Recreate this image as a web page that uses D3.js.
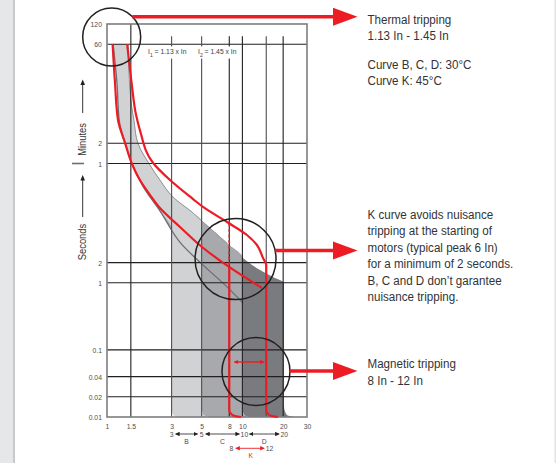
<!DOCTYPE html>
<html>
<head>
<meta charset="utf-8">
<script src="https://cdnjs.cloudflare.com/ajax/libs/d3/7.8.5/d3.min.js"></script>
<style>
  html, body { margin: 0; padding: 0; background: #fff; }
  svg { display: block; }
  text { font-family: "Liberation Sans", Arial, sans-serif; white-space: pre; }
</style>
</head>
<body>
<div id="chart"></div>
<script>
(function () {
  'use strict';

  // x: multiples of In, y: tripping time in seconds
  var xTicks = [1, 1.5, 3, 5, 8, 10, 20, 30];
  var xTickLabels = ['1', '1.5', '3', '5', '8', '10', '20', '30'];
  var xGrid = [1.5, 3, 5, 8, 10, 15, 20];
  var yTicks = [7200, 3600, 120, 60, 2, 1, 0.1, 0.04, 0.02, 0.01];
  var yTickLabels = ['120', '60', '2', '1', '2', '1', '0.1', '0.04', '0.02', '0.01'];
  var yGrid = [3600, 120, 60, 2, 1, 0.1, 0.04, 0.02];

  // thermal band B/C/D (1.13 In no-trip / 1.45 In trip)
  var thermalLow = [[1.11, 3600], [1.185, 950], [1.23, 267], [1.36, 121], [1.53, 59], [1.85, 27],
    [2.46, 11.8], [3.58, 3.7], [5.1, 1.85], [7.7, 0.87], [10.1, 0.5]];
  var thermalHigh = [[1.43, 3600], [1.5, 530], [1.58, 267], [1.69, 121], [2.05, 59], [2.46, 34],
    [3.07, 19], [4.32, 11], [5.12, 8.05], [7.7, 3.9], [10.1, 2.35], [13.5, 1.55], [16.8, 1.22]];

  // K curve (red)
  var kLow = [[1.1, 3600], [1.146, 950], [1.206, 267], [1.36, 121], [1.53, 59], [1.75, 34],
    [2.08, 20.3], [2.46, 13], [3.46, 6.8], [5.03, 3.42], [8.38, 1.61], [13.96, 0.84]];
  var kHigh = [[1.41, 3600], [1.52, 950], [1.64, 317], [1.75, 189], [2.19, 61], [2.92, 34],
    [4.32, 17.7], [5.12, 13.5], [7.7, 8.05], [10.8, 5.16], [12.8, 3.66], [14.2, 2.34]];

  var curveNames = ['B', 'C', 'D'];
  var magneticMin = [3, 5, 10];
  var magneticMax = [5, 10, 20.3];
  var bandColors = ['#d1d2d4', '#a7a9ac', '#7a7b7e'];
  var kMagnetic = [8, 15];

  var width = 556;
  var height = 463;

  var x = d3.scaleLog().domain([1, 30]).range([107, 307]);
  var y = d3.scaleLog().domain([0.01, 7200]).range([417, 24]);

  var red = '#ed1c24';
  var ink = '#231f20';
  var textInk = '#333335';

  var svg = d3.select('#chart')
      .append('svg')
      .attr('width', width)
      .attr('height', height);

  // page edges
  svg.append('rect').attr('x', 0).attr('y', 0).attr('width', 13).attr('height', height).attr('fill', '#e6e7e8');
  svg.append('rect').attr('x', 13).attr('y', 0).attr('width', 2).attr('height', height).attr('fill', '#c8c9cb');
  svg.append('rect').attr('x', 554.5).attr('y', 0).attr('width', 1.5).attr('height', height).attr('fill', '#e2e3e4');

  function timeAt(curve, v) {
    var i = 0;
    while (i < curve.length - 2 && curve[i + 1][0] < v) i++;
    var a = curve[i], b = curve[i + 1];
    var f = (Math.log(v) - Math.log(a[0])) / (Math.log(b[0]) - Math.log(a[0]));
    return Math.exp(Math.log(a[1]) + f * (Math.log(b[1]) - Math.log(a[1])));
  }

  // vertical magnetic drop with the little foot at the bottom
  function drop(v, w, h) {
    return [[v, h], [v * (1 + w * 0.25), 0.0107], [v * (1 + w), 0.01]];
  }

  function edge(curve, v, w, h) {
    return curve.filter(function (d) { return d[0] < v; })
      .concat([[v, timeAt(curve, v)]], drop(v, w, h));
  }

  var line = d3.line()
      .x(function (d) { return x(d[0]); })
      .y(function (d) { return y(d[1]); })
      .curve(d3.curveMonotoneY);

  function band(vMin, vMax, wide) {
    var top = edge(thermalHigh, vMax, wide ? 0.2 : 0.12, wide ? 0.0145 : 0.0135);
    var bottom = edge(thermalLow, vMin, 0.12, 0.0135).reverse();
    return line(top) + 'L' + line(bottom).slice(1) + 'Z';
  }

  // bands, D first so B ends on top
  var bands = svg.append('g');
  for (var i = curveNames.length - 1; i >= 0; i--) {
    bands.append('path')
      .attr('class', 'band band-' + curveNames[i])
      .attr('d', band(magneticMin[i], magneticMax[i], i === curveNames.length - 1))
      .attr('fill', bandColors[i]);
  }

  svg.append('path')
    .attr('d', line(thermalLow))
    .attr('fill', 'none')
    .attr('stroke', '#6d6e71')
    .attr('stroke-width', 1.3);

  svg.append('path')
    .attr('d', line(thermalHigh.filter(function (d) { return d[0] < 10; })))
    .attr('fill', 'none')
    .attr('stroke', '#939598')
    .attr('stroke-width', 1);

  // grid
  var grid = svg.append('g');
  grid.selectAll('.hline')
    .data(yGrid)
    .enter()
    .append('line')
    .attr('x1', x(1))
    .attr('x2', x(30))
    .attr('y1', function (d) { return y(d); })
    .attr('y2', function (d) { return y(d); })
    .attr('stroke', ink)
    .attr('stroke-width', 1.1);

  grid.selectAll('.vline')
    .data(xGrid)
    .enter()
    .append('line')
    .attr('x1', function (d) { return x(d); })
    .attr('x2', function (d) { return x(d); })
    .attr('y1', function (d) { return d === 1.5 ? y(7200) : y(3600) - 8; })
    .attr('y2', y(0.01))
    .attr('stroke', function (d) { return (d === 3 || d === 5 || d === 15) ? '#4d4d4f' : ink; })
    .attr('stroke-width', 1.1);

  svg.append('rect')
    .attr('x', x(1))
    .attr('y', y(7200))
    .attr('width', x(30) - x(1))
    .attr('height', y(0.01) - y(7200))
    .attr('fill', 'none')
    .attr('stroke', '#7d7d7f')
    .attr('stroke-width', 1.6);

  // I1 / I2 labels
  var topLabels = [{ at: 148, sub: '1', rest: ' = 1.13 x In' }, { at: 198, sub: '2', rest: ' = 1.45 x In' }];
  topLabels.forEach(function (d) {
    var g = svg.append('g').attr('transform', 'translate(' + d.at + ',54) scale(0.85,1)');
    var t = g.append('text').attr('font-size', 8).attr('fill', '#414042');
    t.append('tspan').text('I');
    t.append('tspan').attr('font-size', 6).attr('dy', 2.5).text(d.sub);
    t.append('tspan').attr('dy', -2.5).text(d.rest);
    var bb = t.node().getBBox();
    g.insert('rect', 'text')
      .attr('x', bb.x - 1).attr('y', bb.y)
      .attr('width', bb.width + 2).attr('height', bb.height + 1)
      .attr('fill', '#fff');
  });

  // axes
  var yAxis = svg.append('g')
      .attr('transform', 'translate(' + x(1) + ',0)')
      .call(d3.axisLeft(y)
        .tickValues(yTicks)
        .tickFormat(function (d, i) { return yTickLabels[i]; })
        .tickSize(0)
        .tickPadding(6));

  var xAxis = svg.append('g')
      .attr('transform', 'translate(0,' + y(0.01) + ')')
      .call(d3.axisBottom(x)
        .tickValues(xTicks)
        .tickFormat(function (d, i) { return xTickLabels[i]; })
        .tickSize(0)
        .tickPadding(6));

  [yAxis, xAxis].forEach(function (g) {
    g.select('.domain').remove();
    g.attr('font-family', '"Liberation Sans", Arial, sans-serif').attr('font-size', 8);
    g.selectAll('text').attr('fill', '#4d4d4f').attr('transform', 'scale(0.85,1)');
  });

  // K curve
  var kGroup = svg.append('g')
      .attr('fill', 'none')
      .attr('stroke', red)
      .attr('stroke-width', 2.2);

  kGroup.append('path').attr('d', line(kLow));
  kGroup.append('path').attr('d', line(kHigh.filter(function (d) { return d[0] < kMagnetic[1]; })
    .concat([[kMagnetic[1], timeAt(kHigh, kMagnetic[1])]], drop(kMagnetic[1], 0.22, 0.0125))));
  kGroup.append('path').attr('d', line([[kMagnetic[0], timeAt(kLow, kMagnetic[0])]]
    .concat(drop(kMagnetic[0], 0.22, 0.0125))));
  kGroup.append('path')
    .attr('d', line([[kMagnetic[0], timeAt(kHigh, kMagnetic[0])], [kMagnetic[0], timeAt(kLow, kMagnetic[0])]]))
    .attr('stroke-width', 1.6)
    .attr('stroke-dasharray', '3,2.5');

  // arrow heads
  var defs = svg.append('defs');
  [['head-ink', ink], ['head-red', red]].forEach(function (m) {
    defs.append('marker')
      .attr('id', m[0])
      .attr('viewBox', '0 0 10 10')
      .attr('refX', 9)
      .attr('refY', 5)
      .attr('markerUnits', 'userSpaceOnUse')
      .attr('markerWidth', 4.5)
      .attr('markerHeight', 4.5)
      .attr('orient', 'auto-start-reverse')
      .append('path')
      .attr('d', 'M0,0L10,5L0,10z')
      .attr('fill', m[1]);
  });

  // magnetic range arrow in the lower circle
  svg.append('line')
    .attr('x1', x(kMagnetic[0]) + 5).attr('x2', x(kMagnetic[1]) - 2)
    .attr('y1', y(0.066)).attr('y2', y(0.066))
    .attr('stroke', red).attr('stroke-width', 1.4)
    .attr('marker-start', 'url(#head-red)')
    .attr('marker-end', 'url(#head-red)');

  // circles and callout arrows
  var circles = [
    { v: 1.083, t: 4600, r: 29, ay: 16.7 },
    { v: 8.9, t: 2.26, r: 40.5, ay: 250.5 },
    { v: 12.6, t: 0.0477, r: 34, ay: 371 }
  ];
  circles.forEach(function (c) {
    var cx = x(c.v), cy = y(c.t);
    svg.append('circle')
      .attr('cx', cx).attr('cy', cy).attr('r', c.r)
      .attr('fill', 'none')
      .attr('stroke', ink)
      .attr('stroke-width', 1.5);
    var start = cx + Math.sqrt(c.r * c.r - (c.ay - cy) * (c.ay - cy));
    svg.append('line')
      .attr('x1', start).attr('x2', 335)
      .attr('y1', c.ay).attr('y2', c.ay)
      .attr('stroke', red).attr('stroke-width', 3.6);
    svg.append('path')
      .attr('d', 'M333,' + (c.ay - 9) + 'L357.5,' + c.ay + 'L333,' + (c.ay + 9) + 'Z')
      .attr('fill', red);
  });

  // notes on the right
  var notes = [
    { top: 24, lines: ['Thermal tripping', '1.13 In - 1.45 In'] },
    { top: 69, lines: ['Curve B, C, D: 30\u00b0C', 'Curve K: 45\u00b0C'] },
    { top: 219, lines: ['K curve avoids nuisance', 'tripping at the starting of', 'motors (typical peak 6 In)',
      'for a minimum of 2 seconds.', 'B, C and D don\u2019t garantee', 'nuisance tripping.'] },
    { top: 368.3, lines: ['Magnetic tripping', '8 In - 12 In'] }
  ];
  notes.forEach(function (n) {
    n.lines.forEach(function (s, i) {
      svg.append('text')
        .attr('transform', 'translate(367.5,' + (n.top + i * 16.4) + ') scale(0.86,1)')
        .attr('font-size', 13.5)
        .attr('fill', textInk)
        .text(s);
    });
  });

  // y axis titles
  [['Minutes', 139.5], ['Seconds', 242]].forEach(function (d) {
    svg.append('text')
      .attr('transform', 'translate(82.5,' + d[1] + ') rotate(-90) scale(0.85,1)')
      .attr('text-anchor', 'middle')
      .attr('dy', '0.35em')
      .attr('font-size', 11)
      .attr('fill', textInk)
      .text(d[0]);
  });
  [[113, 79.5], [217, 175]].forEach(function (d) {
    svg.append('line')
      .attr('x1', 82.7).attr('x2', 82.7)
      .attr('y1', d[0]).attr('y2', d[1] + 4)
      .attr('stroke', ink).attr('stroke-width', 0.9);
    svg.append('path')
      .attr('d', 'M' + 80.4 + ',' + (d[1] + 5.5) + 'L82.7,' + d[1] + 'L' + 85 + ',' + (d[1] + 5.5) + 'Z')
      .attr('fill', ink);
  });
  svg.append('line')
    .attr('x1', 72).attr('x2', 84)
    .attr('y1', 163.5).attr('y2', 163.5)
    .attr('stroke', '#6d6e71').attr('stroke-width', 1.6);

  // magnetic ranges under the x axis
  var rangeRow = 434;
  var rg = svg.append('g').attr('font-size', 8).attr('fill', '#4d4d4f');
  function small(g, px, py, s, anchor, color) {
    g.append('text')
      .attr('transform', 'translate(' + px + ',' + py + ') scale(0.85,1)')
      .attr('text-anchor', anchor)
      .attr('dy', '0.35em')
      .attr('fill', color || '#4d4d4f')
      .text(s);
  }
  small(rg, x(3) + 2, rangeRow, '3', 'end');
  small(rg, x(5), rangeRow, '5', 'middle');
  small(rg, x(10) + 2, rangeRow, '10', 'middle');
  small(rg, x(20) + 1, rangeRow, '20', 'middle');
  var spans = [[x(3) + 4, x(5) - 4], [x(5) + 4, x(10) - 3], [x(10) + 7, x(20) - 4]];
  spans.forEach(function (s, i) {
    rg.append('line')
      .attr('x1', s[0]).attr('x2', s[1])
      .attr('y1', rangeRow).attr('y2', rangeRow)
      .attr('stroke', ink).attr('stroke-width', 0.8)
      .attr('marker-start', 'url(#head-ink)')
      .attr('marker-end', 'url(#head-ink)');
    small(rg, (s[0] + s[1]) / 2, rangeRow + 7, curveNames[i], 'middle');
  });
  var kRow = 448.3;
  small(rg, x(kMagnetic[0]) + 4, kRow, '8', 'end');
  small(rg, x(kMagnetic[1]) - 0.5, kRow, '12', 'start');
  rg.append('line')
    .attr('x1', x(kMagnetic[0]) + 6.5).attr('x2', x(kMagnetic[1]) - 2)
    .attr('y1', kRow).attr('y2', kRow)
    .attr('stroke', red).attr('stroke-width', 0.9)
    .attr('marker-start', 'url(#head-red)')
    .attr('marker-end', 'url(#head-red)');
  small(rg, (x(kMagnetic[0]) + x(kMagnetic[1])) / 2 + 3, kRow + 6.8, 'K', 'middle', red);
}());
</script>
</body>
</html>
